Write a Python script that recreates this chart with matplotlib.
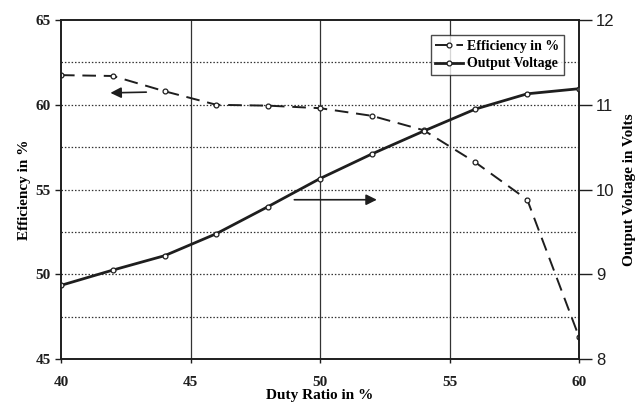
import matplotlib.pyplot as plt

# data
duty = [40, 42, 44, 46, 48, 50, 52, 54, 56, 58, 60]
efficiency = [61.75, 61.7, 60.8, 60.0, 59.95, 59.8, 59.35, 58.5, 56.6, 54.4, 46.3]
voltage = [8.87, 9.05, 9.22, 9.48, 9.8, 10.13, 10.42, 10.69, 10.95, 11.13, 11.19]

x_ticks = [40, 45, 50, 55, 60]
eff_ticks = [45, 50, 55, 60, 65]
volt_ticks = [8, 9, 10, 11, 12]

serif = ['Liberation Serif', 'DejaVu Serif']
sans = ['Liberation Sans', 'DejaVu Sans']
ink = '#1e1e1e'

fig = plt.figure(figsize=(6.42, 4.09), dpi=100)
ax = fig.add_axes([0.095, 0.122, 0.807, 0.829])
ax2 = ax.twinx()

# efficiency on the left axis, dashed
l1, = ax.plot(duty, efficiency, color=ink, lw=1.4, dashes=(7, 4),
              marker='o', ms=3.5, mfc='white', mec=ink, mew=0.9)
# output voltage on the right axis, solid
l2, = ax2.plot(duty, voltage, color=ink, lw=2.0,
               marker='o', ms=3.5, mfc='white', mec=ink, mew=0.9)

ax.set_xlim(40, 60)
ax.set_ylim(45, 65)
ax2.set_ylim(8, 12)

ax.set_xticks(x_ticks)
ax.set_yticks(eff_ticks)
ax2.set_yticks(volt_ticks)

# dotted horizontal grid every 2.5 %, solid vertical grid
for y in [47.5, 50, 52.5, 55, 57.5, 60, 62.5]:
    ax.axhline(y, color='#333333', lw=0.9, ls=(0, (1.2, 1.5)), zorder=0)
for x in [45, 50, 55]:
    ax.axvline(x, color='#333333', lw=0.9, zorder=0)

for s in ax.spines.values():
    s.set_color(ink)
    s.set_linewidth(1.2)
for s in ax2.spines.values():
    s.set_color(ink)
    s.set_linewidth(1.2)

ax.tick_params(axis='y', colors=ink, length=4, width=1.0, labelsize=11)
ax.tick_params(axis='x', colors=ink, length=3, width=1.0, labelsize=11, pad=9)
ax2.tick_params(axis='y', colors=ink, length=9, width=1.0, labelsize=12, pad=3)
for lab in ax.get_xticklabels() + ax.get_yticklabels():
    lab.set_fontfamily(serif)
    lab.set_fontweight('bold')
for lab in ax2.get_yticklabels():
    lab.set_fontfamily(sans)

ax.set_xlabel('Duty Ratio in %', fontfamily=serif, fontweight='bold', fontsize=11, labelpad=0)
ax.set_ylabel('Efficiency in %', fontfamily=serif, fontweight='bold', fontsize=11, labelpad=3)
ax2.set_ylabel('Output Voltage in Volts', fontfamily=serif, fontweight='bold', fontsize=11, labelpad=6)

# arrows pointing at the matching axis
ax.annotate('', xy=(41.8, 60.7), xytext=(43.4, 60.75),
            arrowprops=dict(arrowstyle='-|>', color=ink, lw=1.2, mutation_scale=16))
ax.annotate('', xy=(52.3, 54.4), xytext=(48.9, 54.4),
            arrowprops=dict(arrowstyle='-|>', color=ink, lw=1.2, mutation_scale=16))

leg = ax2.legend([l1, l2], ['Efficiency in %', 'Output Voltage'],
                 loc='upper right', bbox_to_anchor=(0.985, 0.975),
                 prop={'family': serif, 'weight': 'bold', 'size': 10},
                 frameon=True, fancybox=False, handlelength=2.0, handletextpad=0.3,
                 borderpad=0.35, labelspacing=0.3)
leg.get_frame().set_edgecolor(ink)
leg.get_frame().set_linewidth(1.0)

fig.savefig('out.png', dpi=100)
